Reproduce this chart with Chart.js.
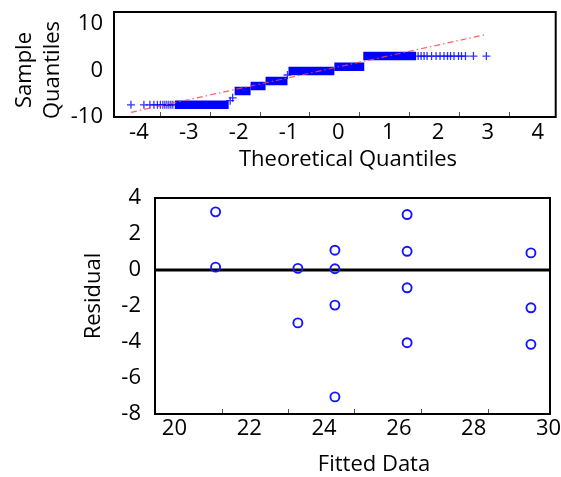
<!DOCTYPE html>
<html>
<head>
<meta charset="utf-8">
<script src="https://cdn.jsdelivr.net/npm/chart.js@4.4.0/dist/chart.umd.min.js"></script>
<style>
  body { margin: 0; background: #fff; overflow: hidden; }
  canvas { position: absolute; left: 0; }
  #qq { top: 0; }
  #resid { top: 180px; }
</style>
</head>
<body>
<canvas id="qq" width="561" height="180"></canvas>
<canvas id="resid" width="561" height="297"></canvas>
<script>
// Q-Q plot: stretches where many points share one sample value (drawn as solid bars)
const blockStart = [-3.28, -2.08, -1.76, -1.46, -1.0, -0.08, 0.5];
const blockEnd = [-2.2, -1.76, -1.46, -1.02, -0.08, 0.52, 1.56];
const blockLevel = [-7.4, -4.43, -3.36, -2.29, -0.14, 0.78, 3.05];

// single crosses in the tails and at the jumps
const qqX = [-4.16, -3.9, -3.78, -3.7, -3.63, -3.57, -3.52, -3.48, -3.44, -3.4, -3.36, -3.32,
  -2.17, -2.12, -1.02,
  1.6, 1.66, 1.72, 1.78, 1.87, 1.96, 2.04, 2.12, 2.19, 2.25, 2.32, 2.41, 2.47, 2.55, 2.71, 2.97];
const qqY = [-7.4, -7.4, -7.4, -7.4, -7.4, -7.4, -7.4, -7.4, -7.4, -7.4, -7.4, -7.4,
  -6.5, -5.9, -1.0,
  3.05, 3.05, 3.05, 3.05, 3.05, 3.05, 3.05, 3.05, 3.05, 3.05, 3.05, 3.05, 3.05, 3.05, 3.05, 3.05];

const refLineX = [-4.16, 2.97];
const refLineY = [-9.0, 7.7];

const qqTicksX = [-4, -3, -2, -1, 0, 1, 2, 3, 4];
const qqTicksY = [-10, 0, 10];
const qqTickMarks = [-3.58, -2.58, -1.58, -0.58, 0.42, 1.42, 2.42, 3.42];

// residuals vs fitted
const fitted = [21.1, 21.1, 23.3, 23.3, 24.29, 24.29, 24.29, 24.29, 26.22, 26.22, 26.22, 26.22, 29.53, 29.53, 29.53];
const residual = [3.23, 0.16, 0.09, -2.94, 1.1, 0.07, -1.95, -7.05, 3.08, 1.04, -0.99, -4.04, 0.95, -2.1, -4.13];
const zeroLineX = [19.48, 30.04];
const residTicksX = [20, 22, 24, 26, 28, 30];
const residTicksY = [4, 2, 0, -2, -4, -6, -8];
const residTickMarks = [21.27, 23.03, 24.8, 26.59, 28.38];

const FONT = "22px 'Open Sans', sans-serif";
Chart.defaults.font.family = "'Open Sans', sans-serif";
Chart.defaults.font.size = 22;
Chart.defaults.color = '#000';

// black box round the plot area, small inward ticks on the bottom edge,
// and the axis titles (they sit a little off-centre in the original figure)
const frame = {
  id: 'frame',
  afterDraw(chart, args, opts) {
    const { ctx, chartArea: a, scales } = chart;
    ctx.save();
    ctx.strokeStyle = '#555';
    ctx.lineWidth = 1;
    (opts.marks || []).forEach(v => {
      const x = Math.round(scales.x.getPixelForValue(v)) + 0.5;
      ctx.beginPath();
      ctx.moveTo(x, a.bottom - 1);
      ctx.lineTo(x, a.bottom - 5);
      ctx.stroke();
    });
    ctx.strokeStyle = '#000';
    ctx.lineWidth = 2;
    ctx.strokeRect(a.left, a.top, a.width, a.height);

    ctx.font = FONT;
    ctx.fillStyle = '#000';
    ctx.textAlign = 'center';
    ctx.textBaseline = 'middle';
    (opts.titles || []).forEach(t => {
      ctx.save();
      ctx.translate(t.x, t.y);
      if (t.rotate) ctx.rotate(-Math.PI / 2);
      ctx.fillText(t.text, 0, 0);
      ctx.restore();
    });
    ctx.restore();
  }
};

const pts = (xs, ys) => xs.map((x, i) => ({ x, y: ys[i] }));
const fixTicks = vals => s => { s.ticks = vals.map(v => ({ value: v })); };
// fixed axis size, no extra room for labels that stick out
const fitX = h => s => { s.height = h; s.paddingLeft = 0; s.paddingRight = 0; };
const fitY = w => s => { s.width = w; s.paddingTop = 0; s.paddingBottom = 0; };

new Chart(document.getElementById('qq'), {
  type: 'scatter',
  data: {
    datasets: [
      {
        data: pts(refLineX, refLineY),
        showLine: true,
        borderColor: 'rgba(255,70,70,0.85)',
        borderWidth: 1.2,
        borderDash: [6, 3, 1.5, 3],
        pointRadius: 0
      },
      {
        data: pts(qqX, qqY),
        pointStyle: 'cross',
        pointRadius: 4,
        borderColor: 'rgba(0,0,255,0.8)',
        borderWidth: 1.3
      },
      ...blockLevel.map((lv, i) => ({
        data: [{ x: blockStart[i], y: lv }, { x: blockEnd[i], y: lv }],
        showLine: true,
        borderColor: '#0000ff',
        borderWidth: 8.5,
        borderCapStyle: 'butt',
        pointRadius: 0
      }))
    ]
  },
  options: {
    responsive: false,
    animation: false,
    events: [],
    layout: { padding: { top: 12, right: 4, left: 0, bottom: 0 } },
    plugins: {
      legend: { display: false },
      tooltip: { enabled: false },
      frame: {
        marks: qqTickMarks,
        titles: [
          { text: 'Theoretical Quantiles', x: 348, y: 160 },
          { text: 'Sample', x: 25, y: 70, rotate: true },
          { text: 'Quantiles', x: 53, y: 70, rotate: true }
        ]
      }
    },
    scales: {
      x: {
        type: 'linear', min: -4.5, max: 4.36,
        afterFit: fitX(63),
        afterBuildTicks: fixTicks(qqTicksX),
        grid: { display: false, drawTicks: false },
        border: { display: false },
        ticks: { padding: 3, maxRotation: 0 }
      },
      y: {
        min: -10, max: 12.5,
        afterFit: fitY(114),
        afterBuildTicks: fixTicks(qqTicksY),
        grid: { display: false, drawTicks: false },
        border: { display: false },
        ticks: { padding: 11 }
      }
    }
  },
  plugins: [frame]
});

new Chart(document.getElementById('resid'), {
  type: 'scatter',
  data: {
    datasets: [
      {
        data: pts(fitted, residual),
        pointStyle: 'circle',
        pointRadius: 4.5,
        borderColor: '#1414ff',
        backgroundColor: 'rgba(0,0,0,0)',
        borderWidth: 1.9
      },
      {
        data: pts(zeroLineX, [0, 0]),
        showLine: true,
        borderColor: '#000',
        borderWidth: 3,
        pointRadius: 0
      }
    ]
  },
  options: {
    responsive: false,
    animation: false,
    events: [],
    layout: { padding: { top: 18, right: 11, left: 0, bottom: 0 } },
    plugins: {
      legend: { display: false },
      tooltip: { enabled: false },
      frame: {
        marks: residTickMarks,
        titles: [
          { text: 'Fitted Data', x: 374, y: 284.5 },
          { text: 'Residual', x: 94, y: 116, rotate: true }
        ]
      }
    },
    scales: {
      x: {
        type: 'linear', min: 19.48, max: 30.04,
        afterFit: fitX(63),
        afterBuildTicks: fixTicks(residTicksX),
        grid: { display: false, drawTicks: false },
        border: { display: false },
        ticks: { padding: 2, maxRotation: 0 }
      },
      y: {
        min: -8, max: 4,
        afterFit: fitY(155),
        afterBuildTicks: fixTicks(residTicksY),
        grid: { display: false, drawTicks: false },
        border: { display: false },
        ticks: { padding: 14 }
      }
    }
  },
  plugins: [frame]
});
</script>
</body>
</html>
